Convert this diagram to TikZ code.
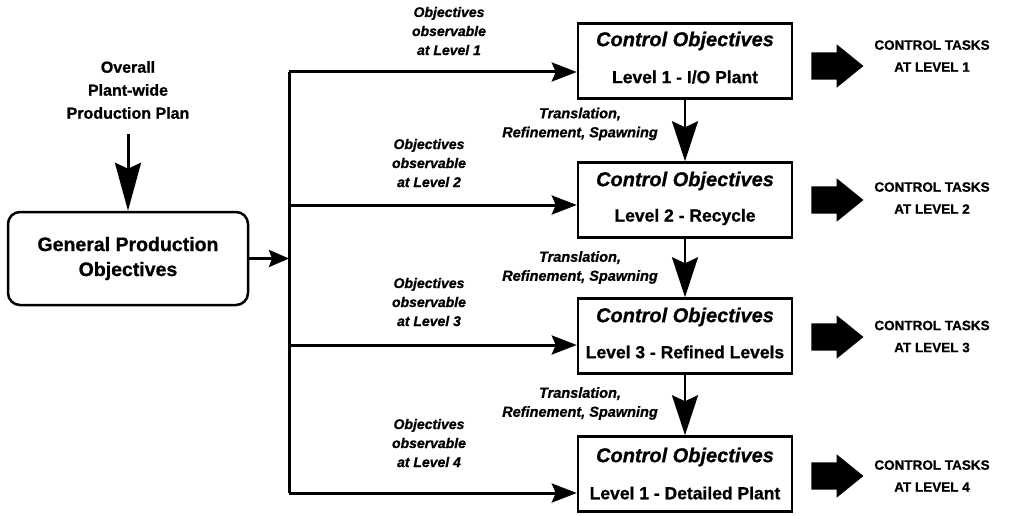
\documentclass[tikz,border=0pt]{standalone}
\usepackage{fontspec}
\setmainfont{Liberation Sans}[BoldFeatures={FakeBold=0.9}, BoldItalicFeatures={FakeBold=0.9}]
\usetikzlibrary{arrows.meta,shapes.arrows}
\begin{document}
\begin{tikzpicture}[x=1pt,y=-1pt,
  plan/.style={font=\fontsize{16}{23}\selectfont\bfseries, align=center, inner sep=0pt},
  genbox/.style={draw, line width=2.5pt, rounded corners=12pt, minimum width=240pt, minimum height=93pt, inner sep=0pt,
    font=\fontsize{19.5}{25}\selectfont\bfseries, align=center},
  obs/.style={font=\fontsize{14}{19}\selectfont\bfseries\itshape, align=center, inner sep=0pt},
  trans/.style={font=\fontsize{14.5}{19}\selectfont\bfseries\itshape, align=center, inner sep=0pt},
  ctrlbox/.style={draw, line width=2.5pt, minimum width=214pt, minimum height=75pt, inner sep=0pt},
  cohead/.style={font=\fontsize{20}{24}\selectfont\bfseries\itshape, inner sep=0pt},
  colevel/.style={font=\fontsize{17.5}{20}\selectfont\bfseries, inner sep=0pt},
  task/.style={font=\fontsize{13.5}{22}\selectfont\bfseries, align=center, inner sep=0pt},
  fat/.style={single arrow, fill=black, inner xsep=0pt, inner ysep=13.5pt, minimum height=52pt,
    single arrow head extend=8pt, single arrow tip angle=78, single arrow head indent=0pt},
  feed/.style={line width=3pt, -{Stealth[length=25pt,width=19pt,inset=4pt]}},
  down/.style={line width=2.5pt, -{Stealth[length=40pt,width=26pt,inset=6pt]}},
  bus/.style={line width=3pt},
]
\useasboundingbox (0,0) rectangle (1020,516);

% plant-wide plan feeding the general objectives
\node[plan] (plan) at (128,90) {Overall\\Plant-wide\\Production Plan};
\node[genbox] (gen) at (128,258.5) {General Production\\Objectives};
\draw[line width=3pt, -{Stealth[length=48pt,width=26pt,inset=6pt]}] (plan.south) ++(0,15) coordinate (pstart) (pstart) -- (gen.north);

% distribution bus
\coordinate (j1) at (289,72);
\coordinate (j2) at (289,205);
\coordinate (j3) at (289,345);
\coordinate (j4) at (289,493);
\draw[bus] (j1) -- (j4);
\draw[line width=3pt, -{Stealth[length=20pt,width=17pt,inset=3pt]}] (gen.east) -- (gen.east -| j1);

% control objective boxes
\node[ctrlbox] (c1) at (685,61) {};
\node[ctrlbox] (c2) at (685,200) {};
\node[ctrlbox] (c3) at (685,336) {};
\node[ctrlbox] (c4) at (685,474) {};

\node[cohead] (h1) at (685,41) {Control Objectives};
\node[colevel] (l1) at (685,77) {Level 1 - I/O Plant};
\node[cohead] (h2) at (685,181) {Control Objectives};
\node[colevel] (l2) at (685,217) {Level 2 - Recycle};
\node[cohead] (h3) at (685,317) {Control Objectives};
\node[colevel] (l3) at (685,352) {Level 3 - Refined Levels};
\node[cohead] (h4) at (685,457) {Control Objectives};
\node[colevel] (l4) at (685,493) {Level 1 - Detailed Plant};

% bus branches
\draw[feed] (j1) -- (c1.west |- j1);
\draw[feed] (j2) -- (c2.west |- j2);
\draw[feed] (j3) -- (c3.west |- j3);
\draw[feed] (j4) -- (c4.west |- j4);

\node[obs] (o1) at (449,31) {Objectives\\observable\\at Level 1};
\node[obs] (o2) at (429,163) {Objectives\\observable\\at Level 2};
\node[obs] (o3) at (429,302) {Objectives\\observable\\at Level 3};
\node[obs] (o4) at (429,443) {Objectives\\observable\\at Level 4};

% refinement between levels
\draw[down] (c1.south) -- (c2.north);
\draw[down] (c2.south) -- (c3.north);
\draw[down] (c3.south) -- (c4.north);

\node[trans] (t1) at (580,124) {Translation,\\Refinement, Spawning};
\node[trans] (t2) at (580,267.5) {Translation,\\Refinement, Spawning};
\node[trans] (t3) at (580,403.5) {Translation,\\Refinement, Spawning};

% resulting control tasks
\node[fat] (f1) at (829,66) {};
\node[fat] (f2) at (829,200) {};
\node[fat] (f3) at (829,337) {};
\node[fat] (f4) at (829,476) {};

\node[task] (k1) at (932,56) {CONTROL TASKS\\AT LEVEL 1};
\node[task] (k2) at (932,198) {CONTROL TASKS\\AT LEVEL 2};
\node[task] (k3) at (932,336.5) {CONTROL TASKS\\AT LEVEL 3};
\node[task] (k4) at (932,476) {CONTROL TASKS\\AT LEVEL 4};
\end{tikzpicture}
\end{document}
